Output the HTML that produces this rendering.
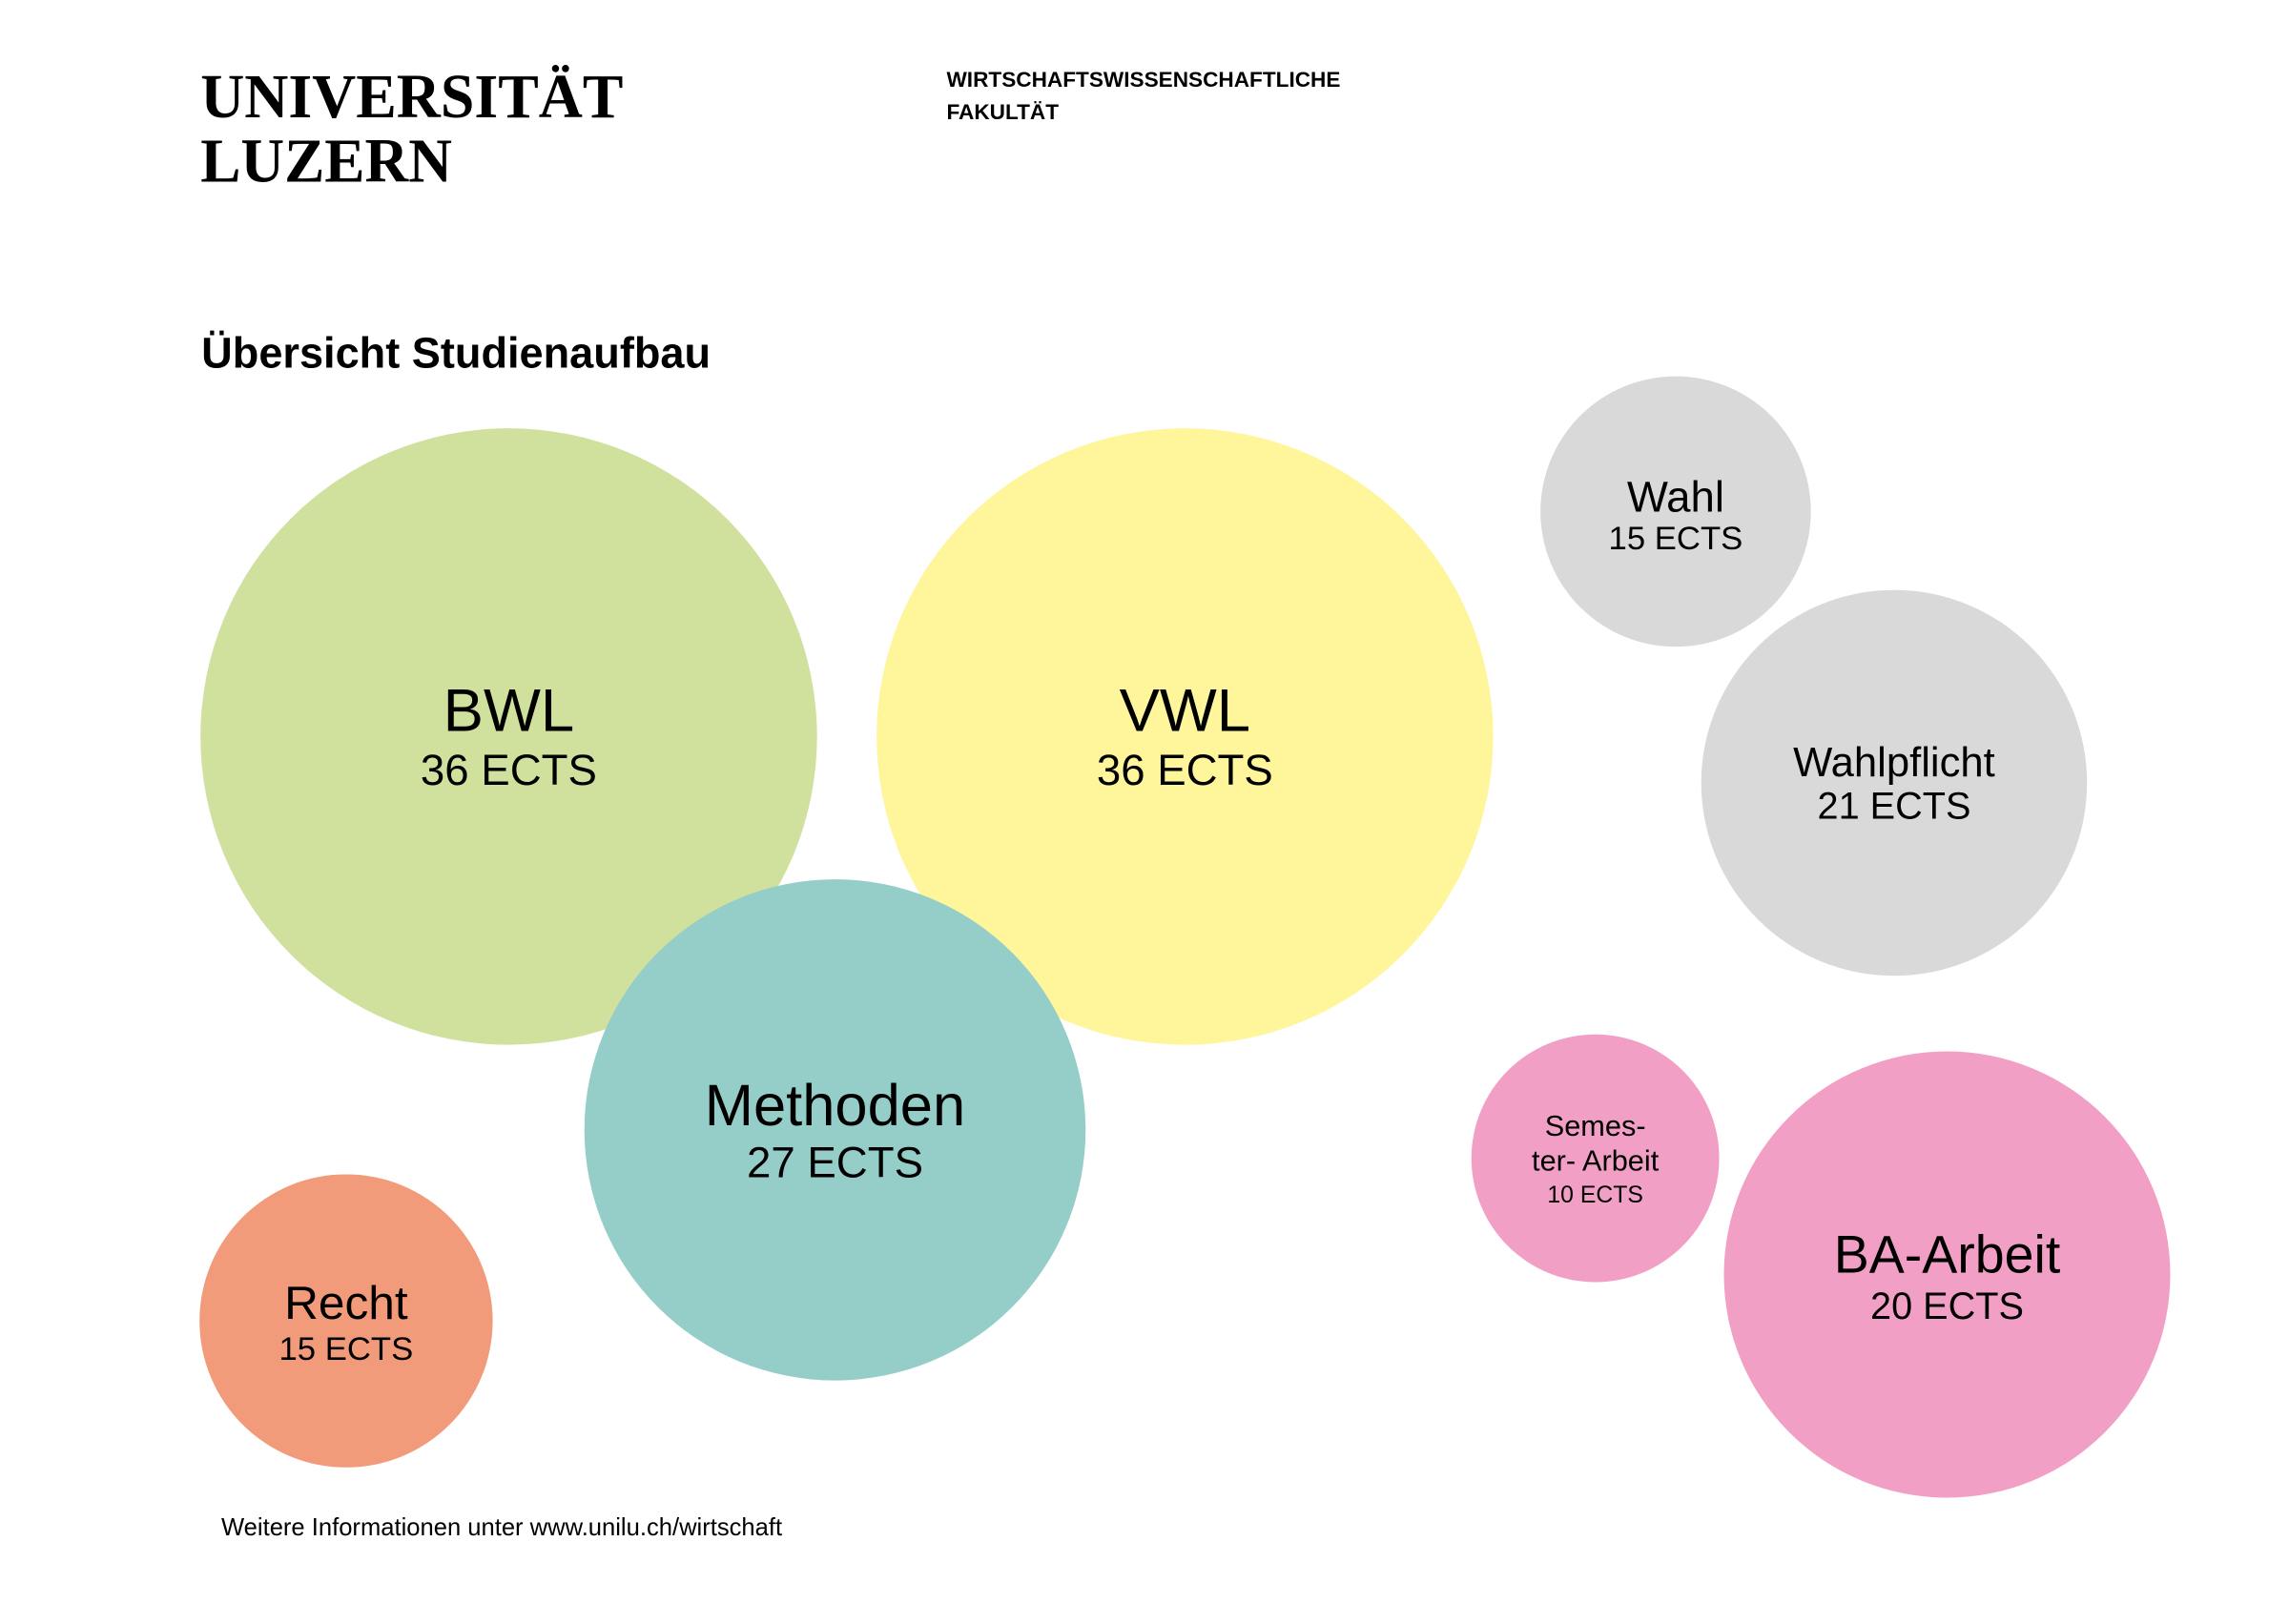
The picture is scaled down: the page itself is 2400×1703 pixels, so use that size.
<!DOCTYPE html>
<html><head><meta charset="utf-8"><style>
html,body{margin:0;padding:0;background:#fff;}
svg{display:block;}
</style></head><body>
<svg width="2400" height="1703" viewBox="0 0 2400 1703" xmlns="http://www.w3.org/2000/svg">
<g transform="scale(0.9915)">
<g font-family="Liberation Sans, sans-serif" fill="#000">
<text x="212" y="124" font-family="Liberation Serif, serif" font-weight="bold" font-size="66" textLength="447" lengthAdjust="spacingAndGlyphs">UNIVERSITÄT</text>
<text x="212" y="192" font-family="Liberation Serif, serif" font-weight="bold" font-size="66" textLength="266" lengthAdjust="spacingAndGlyphs">LUZERN</text>
<text x="1001" y="92" font-weight="bold" font-size="22.8">WIRTSCHAFTSWISSENSCHAFTLICHE</text>
<text x="1001" y="126" font-weight="bold" font-size="22.8">FAKULTÄT</text>
<text x="213" y="389" font-weight="bold" font-size="45.5">Übersicht Studienaufbau</text>
<text x="234" y="1624" font-size="25.8">Weitere Informationen unter www.unilu.ch/wirtschaft</text>
</g>
<circle cx="538" cy="779" r="326" fill="#d0e09d"/>
<circle cx="1253" cy="779" r="326" fill="#fff59b"/>
<circle cx="883" cy="1195" r="265" fill="#95cdc8"/>
<circle cx="366" cy="1397" r="155" fill="#f29b7b"/>
<circle cx="1772" cy="541" r="143" fill="#d9d9d9"/>
<circle cx="2003" cy="828" r="204" fill="#d9d9d9"/>
<circle cx="1687" cy="1225" r="131" fill="#f29fc5"/>
<circle cx="2059" cy="1348" r="236" fill="#f29fc5"/>
<g font-family="Liberation Sans, sans-serif" fill="#000" text-anchor="middle">
<text x="538" y="773" font-size="64">BWL</text>
<text x="538" y="830" font-size="46">36 ECTS</text>
<text x="1253" y="773" font-size="64">VWL</text>
<text x="1253" y="830" font-size="46">36 ECTS</text>
<text x="883" y="1190" font-size="62">Methoden</text>
<text x="883" y="1245" font-size="46">27 ECTS</text>
<text x="366" y="1395" font-size="50">Recht</text>
<text x="366" y="1438" font-size="35">15 ECTS</text>
<text x="1772" y="541" font-size="46">Wahl</text>
<text x="1772" y="581" font-size="35">15 ECTS</text>
<text x="2003" y="821" font-size="44">Wahlpflicht</text>
<text x="2003" y="866" font-size="40">21 ECTS</text>
<text x="1687" y="1201" font-size="31">Semes-</text>
<text x="1687" y="1238" font-size="31">ter- Arbeit</text>
<text x="1687" y="1272" font-size="25">10 ECTS</text>
<text x="2059" y="1346" font-size="56">BA-Arbeit</text>
<text x="2059" y="1395" font-size="40">20 ECTS</text>
</g>
</g>
</svg>
</body></html>
